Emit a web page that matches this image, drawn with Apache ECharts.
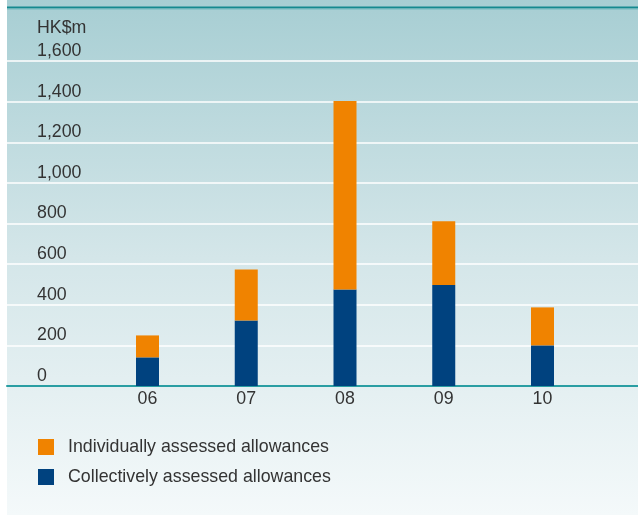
<!DOCTYPE html>
<html>
<head>
<meta charset="utf-8">
<script src="https://cdn.jsdelivr.net/npm/echarts@6/dist/echarts.min.js"></script>
<style>
  html, body { margin: 0; padding: 0; background: #ffffff; }
  #chart { width: 638px; height: 515px; }
</style>
</head>
<body>
<div id="chart"></div>
<script>
// Loan impairment allowances, HK$m
const categories = ['06', '07', '08', '09', '10'];
const collectivelyAssessed = [141, 323, 475, 497, 200];
const individuallyAssessed = [108, 251, 928, 314, 187];
const yTicks = [0, 200, 400, 600, 800, 1000, 1200, 1400, 1600];
const unitLabel = 'HK$m';
const seriesNames = ['Individually assessed allowances', 'Collectively assessed allowances'];

const FONT = 'Liberation Sans, Helvetica, Arial, sans-serif';
const TEXT = '#333333';
const FS = 17.8;
const Y_MAX = 1600;

const chart = echarts.init(document.getElementById('chart'), null, { renderer: 'canvas' });

chart.setOption({
  animation: false,
  textStyle: { fontFamily: FONT },
  graphic: [
    {
      type: 'rect', z: -10, silent: true,
      shape: { x: 7, y: 0, width: 631, height: 515 },
      style: {
        fill: new echarts.graphic.LinearGradient(0, 0, 0, 1, [
          { offset: 0, color: '#a7ced3' },
          { offset: 0.5, color: '#d4e6e9' },
          { offset: 1, color: '#f4f9fa' }
        ])
      }
    },
    {
      type: 'line', z: -5, silent: true,
      shape: { x1: 7, y1: 7.5, x2: 638, y2: 7.5 },
      style: { stroke: '#15898f', lineWidth: 2 }
    },
    {
      type: 'line', z: -5, silent: true,
      shape: { x1: 7, y1: 9, x2: 638, y2: 9 },
      style: { stroke: '#74babe', lineWidth: 1 }
    },
    {
      type: 'text', silent: true,
      left: 37, top: 19,
      style: { text: unitLabel, fontSize: FS, fill: TEXT, fontFamily: FONT }
    }
  ],
  grid: [
    // full-width panel: value gridlines, tick labels and baseline
    { left: 7, right: 0, top: 61, bottom: 129, containLabel: false },
    // plotting band for the five years
    { left: 98.125, right: 46.125, top: 61, bottom: 129, containLabel: false }
  ],
  legend: {
    orient: 'vertical',
    left: 38,
    top: 438,
    padding: 0,
    icon: 'rect',
    itemWidth: 16,
    itemHeight: 16,
    itemGap: 12,
    data: seriesNames,
    textStyle: { fontSize: FS, color: TEXT, fontFamily: FONT, padding: [0, 0, 0, 9] }
  },
  xAxis: [
    {
      gridIndex: 0,
      type: 'value',
      min: 0, max: 1,
      axisLine: { show: true, onZero: false, lineStyle: { color: '#2a9ea3', width: 2 } },
      axisTick: { show: false },
      axisLabel: { show: false },
      splitLine: { show: false }
    },
    {
      gridIndex: 1,
      type: 'category',
      data: categories,
      boundaryGap: true,
      axisLine: { show: false },
      axisTick: { show: false },
      splitLine: { show: false },
      axisLabel: { fontSize: FS, color: TEXT, fontFamily: FONT, margin: 4 }
    }
  ],
  yAxis: [
    {
      gridIndex: 0,
      type: 'value',
      min: 0,
      max: Y_MAX,
      interval: 200,
      axisLine: { show: false },
      axisTick: { show: false },
      splitLine: { show: true, lineStyle: { color: '#ffffff', width: 1.5 } },
      axisLabel: {
        inside: true,
        margin: 30,
        align: 'left',
        verticalAlign: 'bottom',
        padding: [0, 0, 1, 0],
        fontSize: FS, color: TEXT, fontFamily: FONT,
        formatter: v => yTicks.includes(v) ? v.toLocaleString('en-US') : ''
      }
    },
    {
      gridIndex: 1,
      type: 'value',
      min: 0,
      max: Y_MAX,
      interval: 200,
      show: false
    }
  ],
  series: [
    {
      name: seriesNames[1],
      type: 'bar',
      xAxisIndex: 1, yAxisIndex: 1,
      stack: 'allowances',
      barWidth: 23,
      itemStyle: { color: '#00427f' },
      data: collectivelyAssessed
    },
    {
      name: seriesNames[0],
      type: 'bar',
      xAxisIndex: 1, yAxisIndex: 1,
      stack: 'allowances',
      barWidth: 23,
      itemStyle: { color: '#f08300' },
      data: individuallyAssessed
    }
  ]
});
</script>
</body>
</html>
